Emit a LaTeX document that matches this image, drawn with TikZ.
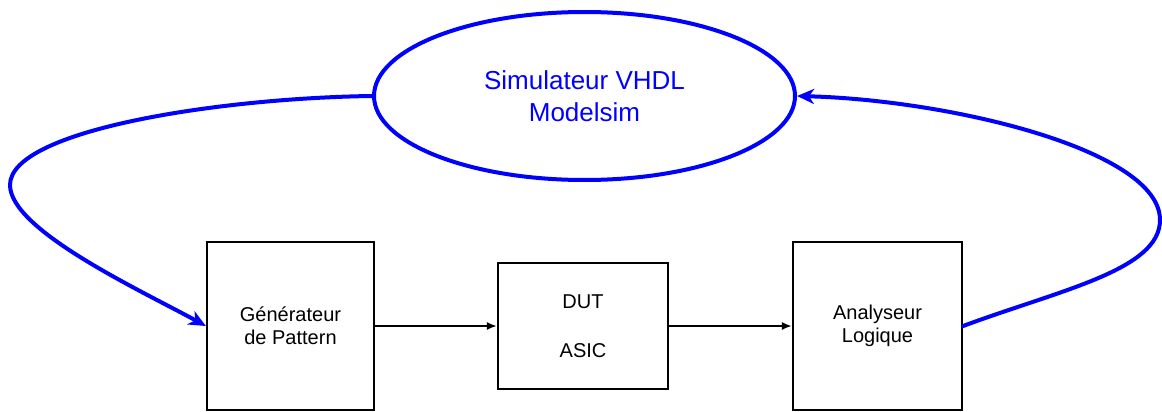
\documentclass[tikz,border=0pt]{standalone}
\usepackage{fontspec}
\setmainfont{Liberation Sans}
\usetikzlibrary{shapes.geometric,arrows.meta}
\definecolor{simblue}{RGB}{0,0,255}
\tikzset{
  blockbox/.style={draw=black, line width=2.2pt, inner sep=0pt, align=center,
    font=\fontsize{20}{23}\selectfont},
  simell/.style={draw=simblue, ellipse, line width=4pt, inner sep=0pt, align=center,
    text=simblue, font=\fontsize{26}{32}\selectfont},
  sigarrow/.style={draw=black, line width=1.8pt, -{Latex[length=10pt,width=8pt]}},
  loopline/.style={draw=simblue, line width=4pt, line cap=round,
    -{Stealth[length=17pt,width=15pt,inset=5pt]}}
}
\begin{document}
\begin{tikzpicture}[x=1pt,y=-1pt]
\useasboundingbox (0,0) rectangle (1162,412);
\node[simell, minimum width=421pt, minimum height=168pt] (sim) at (584.5,96) {Simulateur VHDL\\Modelsim};
\node[blockbox, minimum width=167pt, minimum height=168pt] (gen) at (290.5,326) {Générateur\\de Pattern};
\node[blockbox, minimum width=170pt, minimum height=126pt] (dut) at (583,326) {DUT\\[26pt]ASIC};
\node[blockbox, minimum width=169pt, minimum height=168pt] (ana) at (877.5,326) {Analyseur\\Logique};
\coordinate (lp) at (10,185);
\coordinate (rp) at (1160,220);
\draw[sigarrow] (gen.east) -- (dut.west);
\draw[sigarrow] (dut.east) -- (ana.west);
\draw[loopline] (sim.west) .. controls (220,98) and (10,130) .. (lp)
  .. controls (10,230) and (140,290) .. (gen.west);
\draw[loopline] (ana.east) .. controls (1060,290) and (1160,270) .. (rp)
  .. controls (1160,150) and (950,100) .. (sim.east);
\end{tikzpicture}
\end{document}
